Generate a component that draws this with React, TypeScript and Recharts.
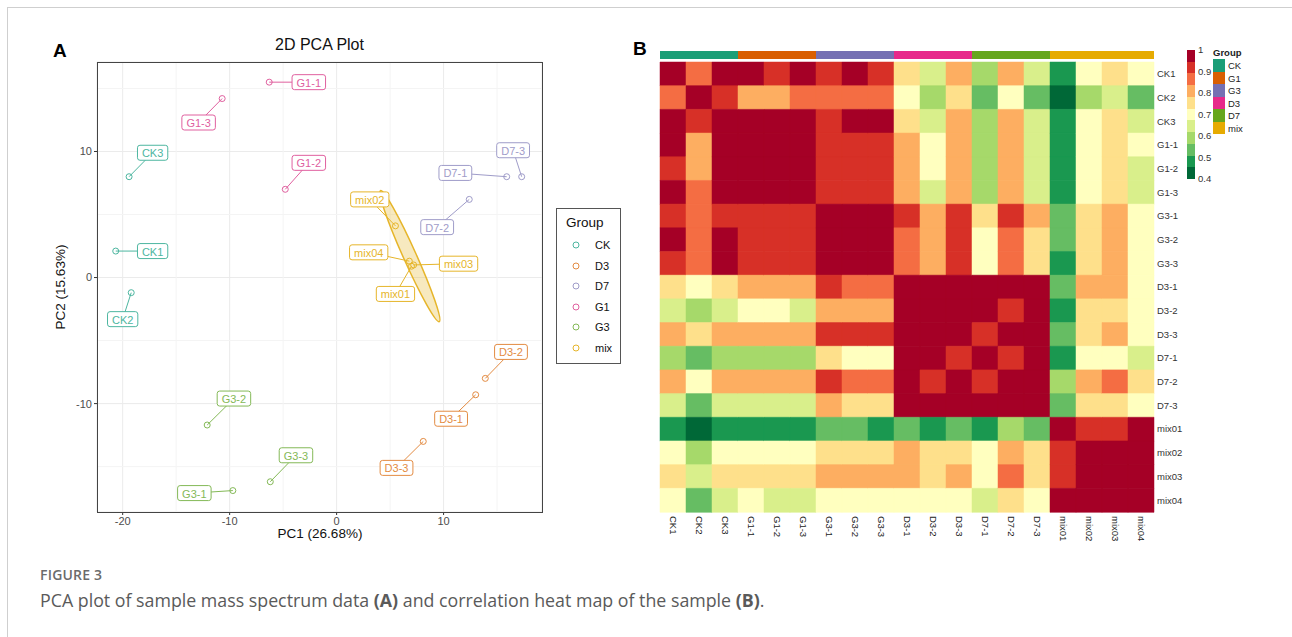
import React from "react";
import {
  ScatterChart,
  Scatter,
  XAxis,
  YAxis,
  CartesianGrid,
  ReferenceLine,
  BarChart,
  Bar,
  Cell,
} from "recharts";

// ---- samples ----
const samples = [
  "CK1", "CK2", "CK3", "G1-1", "G1-2", "G1-3", "G3-1", "G3-2", "G3-3",
  "D3-1", "D3-2", "D3-3", "D7-1", "D7-2", "D7-3", "mix01", "mix02", "mix03", "mix04",
];
const sampleGroups = [
  "CK", "CK", "CK", "G1", "G1", "G1", "G3", "G3", "G3",
  "D3", "D3", "D3", "D7", "D7", "D7", "mix", "mix", "mix", "mix",
];

// ---- PCA scores (panel A) ----
const pc1 = [-20.65, -19.2, -19.4, -6.3, -4.8, -10.7, -9.7, -12.1, -6.2, 13.0, 13.9, 8.1, 15.9, 12.4, 17.3, 7.0, 5.5, 7.2, 6.8];
const pc2 = [2.1, -1.2, 8.0, 15.5, 7.0, 14.2, -16.9, -11.7, -16.2, -9.3, -8.0, -13.0, 8.0, 6.2, 8.0, 0.9, 4.1, 1.0, 1.3];
// repelled label positions
const labelPc1 = [-17.2, -20.0, -17.2, -2.6, -2.6, -12.9, -13.3, -9.6, -3.8, 10.7, 16.3, 5.6, 11.1, 9.4, 16.5, 5.5, 3.1, 11.4, 3.0];
const labelPc2 = [2.1, -3.3, 9.9, 15.5, 9.1, 12.3, -17.1, -9.6, -14.1, -11.2, -5.9, -15.1, 8.3, 4.0, 10.1, -1.3, 6.2, 1.1, 2.0];

const pcaXTicks = [-20, -10, 0, 10];
const pcaYTicks = [-10, 0, 10];
const pcaMinorX = [-15, -5, 5, 15];
const pcaMinorY = [-15, -5, 5, 15];
const pcaLegendGroups = ["CK", "D3", "D7", "G1", "G3", "mix"];

// mix confidence ellipse (centre and end of major axis, PC units)
const mixEllipseCenter = { x: 6.85, y: 1.7 };
const mixEllipseTip = { x: 4.1, y: 6.9 };

// ---- correlation matrix (panel B), rows/cols in sample order ----
const corr = [
  [1, .86, .98, .98, .92, .98, .92, .98, .92, .75, .65, .81, .59, .81, .65, .48, .70, .75, .70],
  [.86, 1, .92, .81, .81, .86, .86, .86, .86, .70, .59, .75, .54, .70, .54, .43, .59, .65, .54],
  [.98, .92, 1, .98, .98, .98, .92, .98, .98, .75, .65, .81, .59, .81, .65, .48, .70, .75, .65],
  [.98, .81, .98, 1, .98, .98, .92, .92, .92, .81, .70, .81, .59, .81, .65, .48, .70, .75, .70],
  [.92, .81, .98, .98, 1, .98, .92, .92, .92, .81, .70, .81, .59, .81, .65, .48, .70, .75, .65],
  [.98, .86, .98, .98, .98, 1, .92, .92, .92, .81, .65, .81, .59, .81, .65, .48, .70, .75, .65],
  [.92, .86, .92, .92, .92, .92, 1, .98, .98, .92, .81, .92, .75, .92, .81, .54, .75, .81, .70],
  [.98, .86, .98, .92, .92, .92, .98, 1, .98, .86, .81, .92, .70, .86, .75, .54, .75, .81, .70],
  [.92, .86, .98, .92, .92, .92, .98, .98, 1, .86, .81, .92, .70, .86, .75, .48, .75, .81, .70],
  [.75, .70, .75, .81, .81, .81, .92, .86, .86, 1, .98, .98, .98, .98, .98, .54, .81, .81, .70],
  [.65, .59, .65, .70, .70, .65, .81, .81, .81, .98, 1, .98, .98, .92, .98, .48, .75, .75, .70],
  [.81, .75, .81, .81, .81, .81, .92, .92, .92, .98, .98, 1, .92, .98, .98, .54, .75, .81, .70],
  [.59, .54, .59, .59, .59, .59, .75, .70, .70, .98, .98, .92, 1, .92, .98, .48, .70, .70, .65],
  [.81, .70, .81, .81, .81, .81, .92, .86, .86, .98, .92, .98, .92, 1, .98, .59, .81, .86, .75],
  [.65, .54, .65, .65, .65, .65, .81, .75, .75, .98, .98, .98, .98, .98, 1, .54, .75, .75, .70],
  [.48, .43, .48, .48, .48, .48, .54, .54, .48, .54, .48, .54, .48, .59, .54, 1, .92, .92, .98],
  [.70, .59, .70, .70, .70, .70, .75, .75, .75, .81, .75, .75, .70, .81, .75, .92, 1, .98, .98],
  [.75, .65, .75, .75, .75, .75, .81, .81, .81, .81, .75, .81, .70, .86, .75, .92, .98, 1, .98],
  [.70, .54, .65, .70, .65, .65, .70, .70, .70, .70, .70, .70, .65, .75, .70, .98, .98, .98, 1],
];
const annotationGroups = ["CK", "G1", "G3", "D3", "D7", "mix"];
const colorbarTicks = [1, 0.9, 0.8, 0.7, 0.6, 0.5, 0.4];

// ---- colours ----
const pcaColors: Record<string, string> = {
  CK: "#4db6a0",
  D3: "#e38b42",
  D7: "#9f9cc9",
  G1: "#e0609f",
  G3: "#84b957",
  mix: "#e6b52a",
};
const groupColors: Record<string, string> = {
  CK: "#1B9E77",
  G1: "#D95F02",
  G3: "#7570B3",
  D3: "#E7298A",
  D7: "#66A61E",
  mix: "#E6AB02",
};
const heatColors = [
  "#006837", "#1a9850", "#66bd63", "#a6d96a", "#d9ef8b", "#ffffbf",
  "#fee08b", "#fdae61", "#f46d43", "#d73027", "#a50026",
];
const heatColor = (v: number) =>
  heatColors[Math.min(10, Math.max(0, Math.floor(((v - 0.4) / 0.6) * 11)))];

// ---- layout ----
const FONT = "'Liberation Sans', Arial, sans-serif";
const PCA = { left: 20, top: 30, w: 530, h: 520 };
const PCA_MARGIN = { top: 32, right: 8, left: 37, bottom: 8 };
const PCA_X_DOMAIN: [number, number] = [-22.4, 19.2];
const PCA_Y_DOMAIN: [number, number] = [-18.6, 17.1];
const PCA_PLOT_W = PCA.w - PCA_MARGIN.left - PCA_MARGIN.right - 40;
const PCA_PLOT_H = PCA.h - PCA_MARGIN.top - PCA_MARGIN.bottom - 30;
const KX = PCA_PLOT_W / (PCA_X_DOMAIN[1] - PCA_X_DOMAIN[0]);
const KY = PCA_PLOT_H / (PCA_Y_DOMAIN[1] - PCA_Y_DOMAIN[0]);

const pcaPoints = samples.map((s, i) => ({ x: pc1[i], y: pc2[i], name: s, group: sampleGroups[i] }));
const pcaLabels = samples.map((s, i) => ({ x: labelPc1[i], y: labelPc2[i], name: s, group: sampleGroups[i] }));

const charW: Record<string, number> = { m: 9.2, i: 2.4, x: 5.5, C: 7.9, K: 7.3, G: 8.6, D: 7.9, "-": 3.7 };
const textWidth = (s: string) => s.split("").reduce((a, c) => a + (charW[c] ?? 6.1), 0);

const Nothing = () => <g />;

const PointShape = (p: any) => (
  <circle cx={p.cx} cy={p.cy} r={3} fill="none" stroke={pcaColors[p.payload.group]} strokeWidth={1} />
);

const LabelShape = (p: any) => {
  const c = pcaColors[p.payload.group];
  const w = textWidth(p.payload.name) + 9;
  return (
    <g>
      <rect x={p.cx - w / 2} y={p.cy - 7.5} width={w} height={15} rx={2.5} fill="#fff" stroke={c} strokeWidth={1} />
      <text x={p.cx} y={p.cy + 0.5} textAnchor="middle" dominantBaseline="central" fontSize={11} fill={c} fontFamily={FONT}>
        {p.payload.name}
      </text>
    </g>
  );
};

const EllipseShape = (p: any) => {
  const dx = (mixEllipseTip.x - mixEllipseCenter.x) * KX;
  const dy = -(mixEllipseTip.y - mixEllipseCenter.y) * KY;
  const a = Math.hypot(dx, dy);
  const ang = (Math.atan2(dy, dx) * 180) / Math.PI;
  return (
    <ellipse
      cx={p.cx}
      cy={p.cy}
      rx={a}
      ry={6.5}
      transform={`rotate(${ang} ${p.cx} ${p.cy})`}
      fill="rgba(230,181,42,0.3)"
      stroke="#e6b52a"
      strokeWidth={1.5}
    />
  );
};

// ---- heatmap data ----
const heatRows = samples.map((s) => {
  const row: Record<string, any> = { name: s };
  samples.forEach((_, j) => (row[`c${j}`] = 1));
  return row;
});
const annotationRow: Record<string, any> = { name: "Group" };
annotationGroups.forEach((g) => (annotationRow[g] = sampleGroups.filter((x) => x === g).length));
const heatXTicks = samples.map((_, j) => j + 0.5);

const ColumnTick = (p: any) => (
  <text
    transform={`translate(${p.x},${p.y}) rotate(90)`}
    textAnchor="start"
    dominantBaseline="central"
    fontSize={9.5}
    fill="#222"
    fontFamily={FONT}
  >
    {samples[Math.floor(p.payload.value)]}
  </text>
);

const HEAT = { left: 640, top: 40, w: 560, h: 532 };

const abs = (left: number, top: number): React.CSSProperties => ({ position: "absolute", left, top });

export default function App() {
  return (
    <div style={{ position: "relative", width: 1292, height: 637, overflow: "hidden", background: "#fff", fontFamily: FONT }}>
      <style>{`body{margin:0}`}</style>
      {/* page frame */}
      <div style={{ ...abs(7, 7), width: 1290, height: 660, border: "1px solid #cfcfcf", boxSizing: "border-box" }} />

      {/* ---------- Panel A ---------- */}
      <div style={{ ...abs(53, 40), fontSize: 19, fontWeight: 700 }}>A</div>
      <div style={{ ...abs(PCA.left + PCA_MARGIN.left + 40, 36), width: PCA_PLOT_W, textAlign: "center", fontSize: 16, color: "#111" }}>
        2D PCA Plot
      </div>
      <div style={{ ...abs(320 - 60, 526), width: 120, textAlign: "center", fontSize: 13.5, color: "#111" }}>PC1 (26.68%)</div>
      <div
        style={{
          ...abs(62 - 60, 287 - 9),
          width: 120,
          height: 18,
          textAlign: "center",
          fontSize: 13.5,
          color: "#111",
          transform: "rotate(-90deg)",
        }}
      >
        PC2 (15.63%)
      </div>

      <div style={abs(PCA.left, PCA.top)}>
        <ScatterChart width={PCA.w} height={PCA.h} margin={PCA_MARGIN}>
          <CartesianGrid stroke="#ebebeb" />
          {pcaMinorX.map((v) => (
            <ReferenceLine key={`mx${v}`} x={v} stroke="#f4f4f4" />
          ))}
          {pcaMinorY.map((v) => (
            <ReferenceLine key={`my${v}`} y={v} stroke="#f4f4f4" />
          ))}
          <XAxis
            type="number"
            dataKey="x"
            domain={PCA_X_DOMAIN}
            ticks={pcaXTicks}
            height={30}
            axisLine={false}
            tickSize={3}
            tickLine={{ stroke: "#333" }}
            tick={{ fontSize: 11, fill: "#4d4d4d", fontFamily: FONT }}
            allowDataOverflow
          />
          <YAxis
            type="number"
            dataKey="y"
            domain={PCA_Y_DOMAIN}
            ticks={pcaYTicks}
            width={40}
            axisLine={false}
            tickSize={3}
            tickLine={{ stroke: "#333" }}
            tick={{ fontSize: 11, fill: "#4d4d4d", fontFamily: FONT }}
            allowDataOverflow
          />
          <Scatter data={[mixEllipseCenter]} shape={EllipseShape} isAnimationActive={false} />
          {samples.map((s, i) => (
            <Scatter
              key={`seg${s}`}
              data={[pcaPoints[i], pcaLabels[i]]}
              line={{ stroke: pcaColors[sampleGroups[i]], strokeWidth: 1 }}
              shape={Nothing}
              isAnimationActive={false}
            />
          ))}
          <Scatter data={pcaPoints} shape={PointShape} isAnimationActive={false} />
          <Scatter data={pcaLabels} shape={LabelShape} isAnimationActive={false} />
        </ScatterChart>
      </div>
      {/* panel border */}
      <div
        style={{
          ...abs(97, 62),
          width: PCA_PLOT_W + 1,
          height: PCA_PLOT_H + 1,
          border: "1px solid #444",
          boxSizing: "border-box",
          pointerEvents: "none",
        }}
      />

      {/* PCA legend */}
      <div style={{ ...abs(556, 208), width: 65, height: 156, border: "1px solid #555", boxSizing: "border-box" }}>
        <div style={{ position: "absolute", left: 9, top: 6, fontSize: 13.5, color: "#111" }}>Group</div>
        {pcaLegendGroups.map((g, i) => (
          <div key={g} style={{ position: "absolute", left: 14, top: 29 + i * 20.5, height: 14, display: "flex", alignItems: "center" }}>
            <svg width={10} height={10}>
              <circle cx={5} cy={5} r={3} fill="none" stroke={pcaColors[g]} strokeWidth={1} />
            </svg>
            <span style={{ marginLeft: 14, fontSize: 11, color: "#111" }}>{g}</span>
          </div>
        ))}
      </div>

      {/* ---------- Panel B ---------- */}
      <div style={{ ...abs(633, 38), fontSize: 19, fontWeight: 700 }}>B</div>

      <div style={abs(HEAT.left, 45)}>
        <BarChart
          width={HEAT.w}
          height={16}
          layout="vertical"
          data={[annotationRow]}
          margin={{ top: 6, right: 2, left: 20, bottom: 2 }}
          barCategoryGap={0}
        >
          <XAxis type="number" domain={[0, samples.length]} hide />
          <YAxis
            type="category"
            dataKey="name"
            orientation="right"
            width={44}
            axisLine={false}
            tickLine={false}
            tickSize={0}
            tickMargin={3}
            tick={{ fontSize: 9.5, fill: "#222", fontWeight: 700, fontFamily: FONT, textAnchor: "start" }}
          />
          {annotationGroups.map((g) => (
            <Bar key={g} dataKey={g} stackId="a" fill={groupColors[g]} isAnimationActive={false} />
          ))}
        </BarChart>
      </div>

      <div style={abs(HEAT.left, HEAT.top)}>
        <BarChart
          width={HEAT.w}
          height={HEAT.h}
          layout="vertical"
          data={heatRows}
          margin={{ top: 22, right: 2, left: 20, bottom: 8 }}
          barCategoryGap={0}
          barGap={0}
        >
          <XAxis
            type="number"
            domain={[0, samples.length]}
            ticks={heatXTicks}
            interval={0}
            height={52}
            axisLine={false}
            tickLine={false}
            tickSize={0}
            tickMargin={4}
            tick={<ColumnTick />}
          />
          <YAxis
            type="category"
            dataKey="name"
            orientation="right"
            width={44}
            interval={0}
            axisLine={false}
            tickLine={false}
            tickSize={0}
            tickMargin={3}
            tick={{ fontSize: 9.5, fill: "#333", fontFamily: FONT, textAnchor: "start" }}
          />
          {samples.map((_, j) => (
            <Bar key={j} dataKey={`c${j}`} stackId="h" isAnimationActive={false}>
              {samples.map((__, i) => (
                <Cell key={i} fill={heatColor(corr[i][j])} stroke={heatColor(corr[i][j])} strokeWidth={0.5} />
              ))}
            </Bar>
          ))}
        </BarChart>
      </div>

      {/* colour bar */}
      {heatColors
        .slice()
        .reverse()
        .map((c, k) => (
          <div key={c} style={{ ...abs(1187, 50 + k * 11.73), width: 8, height: 12, background: c }} />
        ))}
      {colorbarTicks.map((v) => (
        <div
          key={v}
          style={{ ...abs(1198, 179 - ((v - 0.4) / 0.6) * 129 - 6), fontSize: 9.5, color: "#333", lineHeight: "12px" }}
        >
          {v}
        </div>
      ))}

      {/* group legend */}
      <div style={{ ...abs(1213, 47), fontSize: 9.5, fontWeight: 700, color: "#222", lineHeight: "12px" }}>Group</div>
      {annotationGroups.map((g, i) => (
        <div key={g} style={{ ...abs(1213, 59.3 + i * 12.5), display: "flex", alignItems: "center", height: 12.5 }}>
          <div style={{ width: 12, height: 12.5, background: groupColors[g] }} />
          <span style={{ marginLeft: 3, fontSize: 9.5, color: "#222" }}>{g}</span>
        </div>
      ))}

      {/* caption */}
      <div style={{ ...abs(40, 565), fontFamily: "'Open Sans', sans-serif", fontSize: 14, fontWeight: 600, color: "#6b6b6b", letterSpacing: 0.2 }}>
        FIGURE 3
      </div>
      <div style={{ ...abs(40, 588), fontFamily: "'Open Sans', sans-serif", fontSize: 17.8, color: "#5a5a5a" }}>
        PCA plot of sample mass spectrum data <b>(A)</b> and correlation heat map of the sample <b>(B)</b>.
      </div>
    </div>
  );
}
